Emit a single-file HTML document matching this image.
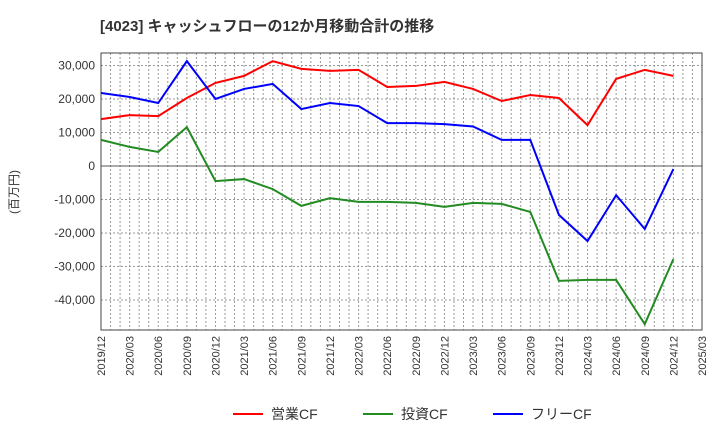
<!DOCTYPE html>
<html><head><meta charset="utf-8"><style>
body{margin:0;background:#fff;font-family:"Liberation Sans","Noto Sans CJK JP",sans-serif;}
</style></head><body>
<svg id="c" width="720" height="440" xmlns="http://www.w3.org/2000/svg" font-family="Liberation Sans, Noto Sans CJK JP, sans-serif">
<text x="100" y="31" font-size="15" font-weight="bold" fill="#333">[4023]  キャッシュフローの12か月移動合計の推移</text>
<text transform="translate(18,192) rotate(-90)" text-anchor="middle" font-size="12" fill="#333">(百万円)</text>
</svg>
<script>
const categories=["2019/12","2020/03","2020/06","2020/09","2020/12","2021/03","2021/06","2021/09","2021/12","2022/03","2022/06","2022/09","2022/12","2023/03","2023/06","2023/09","2023/12","2024/03","2024/06","2024/09","2024/12"];
const xTickLabels=["2019/12","2020/03","2020/06","2020/09","2020/12","2021/03","2021/06","2021/09","2021/12","2022/03","2022/06","2022/09","2022/12","2023/03","2023/06","2023/09","2023/12","2024/03","2024/06","2024/09","2024/12","2025/03"];
const operatingCF=[14000,15200,14900,20300,24800,26900,31300,29000,28400,28700,23600,23900,25100,23000,19400,21200,20300,12200,26000,28700,26900];
const investingCF=[7800,5700,4200,11600,-4500,-3900,-6900,-11900,-9600,-10700,-10700,-11000,-12200,-11000,-11300,-13700,-34300,-34000,-34000,-47200,-27800];
const freeCF=[21800,20600,18800,31300,20000,23000,24500,17000,18800,17900,12800,12800,12500,11800,7800,7800,-14600,-22400,-8700,-18800,-900];
const yTicks=[30000,20000,10000,0,-10000,-20000,-30000,-40000];
const L=101,R=702,T=53,B=330;
const ns="http://www.w3.org/2000/svg",svg=document.getElementById('c');
const x=i=>L+(R-L)*i/21;
const y=v=>166-v*0.00335;
function mk(t,a,p){const e=document.createElementNS(ns,t);for(const k in a)e.setAttribute(k,a[k]);(p||svg).appendChild(e);return e;}
// vertical monthly grid
for(let m=1;m<63;m++){const gx=L+(R-L)*m/63;const g=mk('line',{x1:gx,x2:gx,y1:T,y2:B,stroke:'#999','stroke-width':1,'stroke-dasharray':'2,2'});

}
yTicks.forEach(v=>{const yy=y(v);
const g=mk('line',{x1:L,x2:R,y1:yy,y2:yy,stroke:v===0?'#555':'#999','stroke-width':1,'stroke-dasharray':v===0?'none':'2,2'});


const t=mk('text',{x:L-6,y:yy+4,'text-anchor':'end','font-size':12,fill:'#333'});t.textContent=v.toLocaleString('en-US');

});
xTickLabels.forEach((s,i)=>{const xx=x(i);const t=mk('text',{transform:`translate(${xx+4},${B+6}) rotate(-90)`,'text-anchor':'end','font-size':11,fill:'#333'});t.textContent=s;

});
const fr=mk('rect',{x:L,y:T,width:R-L,height:B-T,fill:'none',stroke:'#444','stroke-width':1});


function line(d,c,n){const p=mk('polyline',{points:d.map((v,i)=>x(i)+','+y(v)).join(' '),fill:'none',stroke:c,'stroke-width':2});

}
line(operatingCF,'#f00','operating-cf-line');
line(investingCF,'#228b22','investing-cf-line');
line(freeCF,'#00f','free-cf-line');
const leg=[['営業CF','#f00',233],['投資CF','#228b22',363],['フリーCF','#00f',493]];
leg.forEach(([s,c,lx])=>{const g=mk('g',{});


mk('line',{x1:lx,x2:lx+30,y1:414,y2:414,stroke:c,'stroke-width':2},g);
const t=mk('text',{x:lx+38,y:419,'font-size':14,fill:'#333'},g);t.textContent=s;});
</script>
</body></html>
